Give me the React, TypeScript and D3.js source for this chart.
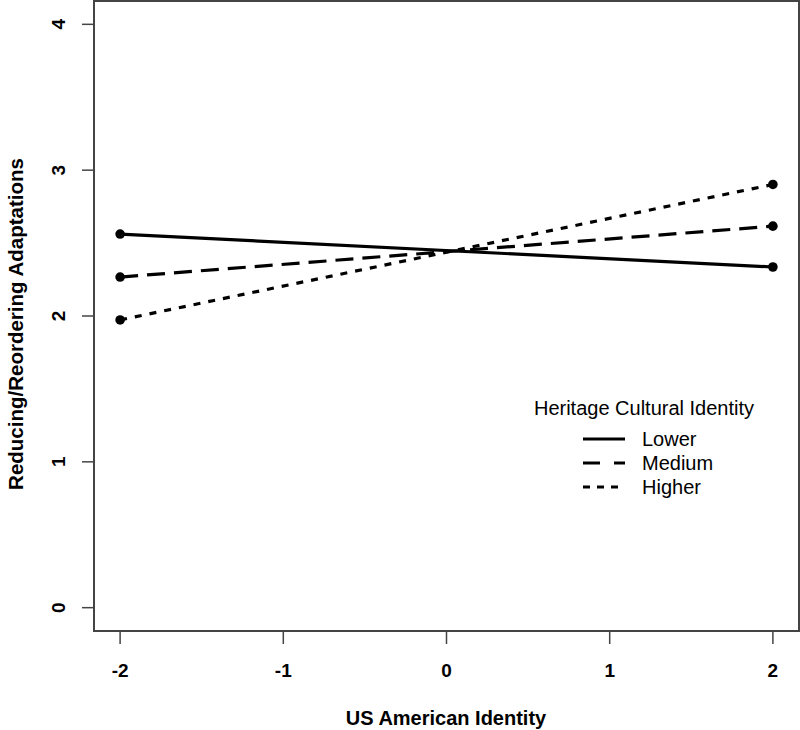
import React from "react";
import { scaleLinear, line } from "d3";

// values (simple slopes at -2 SD and +2 SD)
const xValues = [-2, 2];
const seriesNames = ["Lower", "Medium", "Higher"];
const lowerVals = [2.562, 2.336];
const mediumVals = [2.267, 2.616];
const higherVals = [1.973, 2.902];
const xTicks = [-2, -1, 0, 1, 2];
const yTicks = [0, 1, 2, 3, 4];

const dashes = ["none", "18 9", "7 8"];
const legendDashes = ["none", "17 14", "7 7"];

const W = 800;
const H = 730;
const left = 94;
const right = 799;
const top = 1;
const bottom = 631;
const font = "'Liberation Sans', Arial, Helvetica, sans-serif";

export default function App() {
  // R style: 4% padding around the data range
  const xScale = scaleLinear().domain([-2.16, 2.16]).range([left, right]);
  const yScale = scaleLinear().domain([-0.16, 4.16]).range([bottom, top]);
  const allSeries = [lowerVals, mediumVals, higherVals];

  const lineGen = line<[number, number]>()
    .x((d) => xScale(d[0]))
    .y((d) => yScale(d[1]));

  return (
    <div style={{ position: "absolute", left: 0, top: 0 }}>
      <svg width={W} height={H} style={{ display: "block", background: "#fff" }}>
        <rect
          x={left}
          y={top}
          width={right - left}
          height={bottom - top}
          fill="none"
          stroke="#444"
          strokeWidth={2}
        />
        {/* y axis */}
        {yTicks.map((t) => (
          <g key={"y" + t} transform={`translate(${left}, ${yScale(t)})`}>
            <line x1={-12} x2={0} stroke="#444" strokeWidth={1.5} />
            <text
              transform="translate(-36, 0) rotate(-90)"
              textAnchor="middle"
              dy="0.35em"
              fontFamily={font}
              fontWeight="bold"
              fontSize={19}
            >
              {t}
            </text>
          </g>
        ))}
        {/* x axis */}
        {xTicks.map((t) => (
          <g key={"x" + t} transform={`translate(${xScale(t)}, ${bottom})`}>
            <line y1={0} y2={13} stroke="#444" strokeWidth={1.5} />
            <text
              y={39}
              textAnchor="middle"
              dy="0.35em"
              fontFamily={font}
              fontWeight="bold"
              fontSize={19}
            >
              {t}
            </text>
          </g>
        ))}
        <text
          x={446}
          y={718}
          textAnchor="middle"
          dy="0.35em"
          fontFamily={font}
          fontWeight="bold"
          fontSize={20}
        >
          US American Identity
        </text>
        <text
          transform={`translate(16, ${(top + bottom) / 2 + 8}) rotate(-90)`}
          textAnchor="middle"
          dy="0.35em"
          fontFamily={font}
          fontWeight="bold"
          fontSize={20.5}
        >
          Reducing/Reordering Adaptations
        </text>
        {/* lines */}
        {allSeries.map((vals, i) => {
          const pts: [number, number][] = xValues.map((x, j) => [x, vals[j]]);
          return (
            <g key={seriesNames[i]}>
              <path
                d={lineGen(pts) || ""}
                fill="none"
                stroke="#000"
                strokeWidth={3.2}
                strokeDasharray={dashes[i]}
              />
              {pts.map((p, j) => (
                <circle key={j} cx={xScale(p[0])} cy={yScale(p[1])} r={4.8} fill="#000" />
              ))}
            </g>
          );
        })}
        {/* legend */}
        <text
          x={644}
          y={408}
          textAnchor="middle"
          dy="0.35em"
          fontFamily={font}
          fontSize={20}
        >
          Heritage Cultural Identity
        </text>
        {seriesNames.map((name, i) => {
          const ly = 439 + i * 24;
          return (
            <g key={"leg" + name}>
              <line
                x1={583}
                x2={625}
                y1={ly}
                y2={ly}
                stroke="#000"
                strokeWidth={3.2}
                strokeDasharray={legendDashes[i]}
              />
              <text x={642} y={ly} dy="0.35em" fontFamily={font} fontSize={20}>
                {name}
              </text>
            </g>
          );
        })}
      </svg>
    </div>
  );
}
